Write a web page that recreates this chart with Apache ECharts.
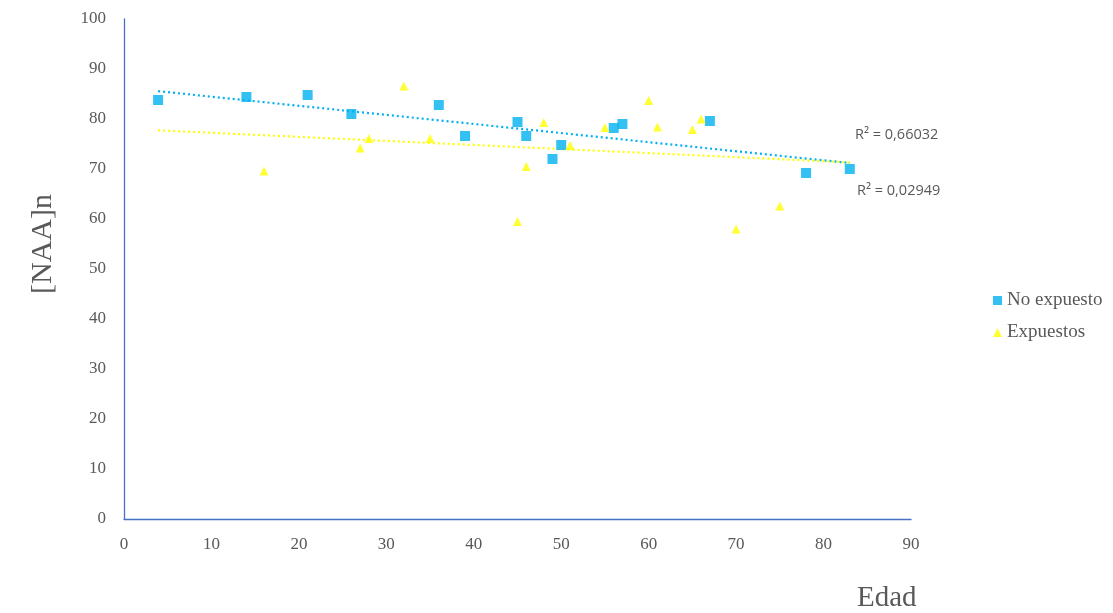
<!DOCTYPE html>
<html>
<head>
<meta charset="utf-8">
<script src="https://cdn.jsdelivr.net/npm/echarts@6/dist/echarts.min.js"></script>
<style>
  html, body { margin: 0; padding: 0; background: #fff; }
  #chart { width: 1113px; height: 613px; }
</style>
</head>
<body>
<div id="chart"></div>
<script>
// Edad (x) and [NAA]n (y) for each group
const noExpuestoEdad = [3.9, 14, 21, 26, 36, 39, 45, 46, 49, 50, 56, 57, 67, 78, 83];
const noExpuestoNAA  = [83.8, 84.4, 84.8, 81, 82.8, 76.6, 79.4, 76.6, 72, 74.8, 78.2, 79, 79.6, 69.2, 70];

const expuestosEdad = [16, 27, 28, 32, 35, 45, 46, 48, 51, 55, 60, 61, 65, 66, 70, 75];
const expuestosNAA  = [69.6, 74.2, 76.1, 86.6, 76.1, 59.5, 70.5, 79.3, 74.7, 78.3, 83.7, 78.4, 77.9, 80, 58, 62.6];

const seriesNames = ['No expuesto', 'Expuestos'];
const r2Labels = ['R² = 0,66032', 'R² = 0,02949'];
const xTicks = { min: 0, max: 90, interval: 10 };
const yTicks = { min: 0, max: 100, interval: 10 };
// trend lines span the age range covered by both groups
const trendRange = [3.9, 83];

function zip(xs, ys) { return xs.map((x, i) => [x, ys[i]]); }

// least-squares line through a group's points, evaluated at the range ends
function trend(xs, ys) {
  const n = xs.length;
  const mx = xs.reduce((a, b) => a + b, 0) / n;
  const my = ys.reduce((a, b) => a + b, 0) / n;
  let sxy = 0, sxx = 0;
  for (let i = 0; i < n; i++) { sxy += (xs[i] - mx) * (ys[i] - my); sxx += (xs[i] - mx) ** 2; }
  const b = sxy / sxx, a = my - b * mx;
  return trendRange.map(x => [x, a + b * x]);
}

const blue = '#00B0F0';
const yellow = '#FFFF00';
const axisBlue = '#4472C4';
const textGrey = '#595959';
const serif = '"Liberation Serif", "Times New Roman", serif';

const chart = echarts.init(document.getElementById('chart'), null, { renderer: 'canvas' });
chart.setOption({
  animation: false,
  backgroundColor: '#ffffff',
  grid: { left: 124, right: 202, top: 19, bottom: 94, containLabel: false },
  xAxis: {
    type: 'value', min: xTicks.min, max: xTicks.max, interval: xTicks.interval,
    axisLine: { show: true, onZero: false, lineStyle: { color: axisBlue, width: 1.3 } },
    axisTick: { show: false },
    splitLine: { show: false },
    axisLabel: { color: textGrey, fontFamily: serif, fontSize: 17, margin: 17 }
  },
  yAxis: {
    type: 'value', min: yTicks.min, max: yTicks.max, interval: yTicks.interval,
    axisLine: { show: true, onZero: false, lineStyle: { color: axisBlue, width: 1.3 } },
    axisTick: { show: false },
    splitLine: { show: false },
    axisLabel: { color: textGrey, fontFamily: serif, fontSize: 17, margin: 18 }
  },
  legend: {
    orient: 'vertical', left: 988, top: 286, itemGap: 13,
    itemWidth: 9, itemHeight: 9,
    data: [
      { name: seriesNames[0], icon: 'rect' },
      { name: seriesNames[1], icon: 'triangle' }
    ],
    textStyle: { color: textGrey, fontFamily: serif, fontSize: 19 }
  },
  graphic: [
    { type: 'text', left: 855, top: 127, style: { text: r2Labels[0], fill: textGrey, font: '14.5px "Open Sans", sans-serif' } },
    { type: 'text', left: 857, top: 183, style: { text: r2Labels[1], fill: textGrey, font: '14.5px "Open Sans", sans-serif' } },
    { type: 'text', left: 857, top: 584, style: { text: 'Edad', fill: textGrey, font: '29px ' + serif } },
    { type: 'text', x: 28, y: 294, rotation: Math.PI / 2,
      style: { text: '[NAA]n', fill: textGrey, font: '30px ' + serif } }
  ],
  series: [
    {
      name: seriesNames[0] + ' tendencia', type: 'line', data: trend(noExpuestoEdad, noExpuestoNAA),
      symbol: 'none', silent: true, z: 1,
      lineStyle: { color: blue, width: 2.2, type: [2, 3] }
    },
    {
      name: seriesNames[1] + ' tendencia', type: 'line', data: trend(expuestosEdad, expuestosNAA),
      symbol: 'none', silent: true, z: 1,
      lineStyle: { color: yellow, width: 2.2, type: [2, 3] }
    },
    {
      name: seriesNames[0], type: 'scatter', data: zip(noExpuestoEdad, noExpuestoNAA),
      symbol: 'rect', symbolSize: 10, itemStyle: { color: blue }, z: 3
    },
    {
      name: seriesNames[1], type: 'scatter', data: zip(expuestosEdad, expuestosNAA),
      symbol: 'triangle', symbolSize: 9, itemStyle: { color: yellow }, z: 3
    }
  ]
});
</script>
</body>
</html>
